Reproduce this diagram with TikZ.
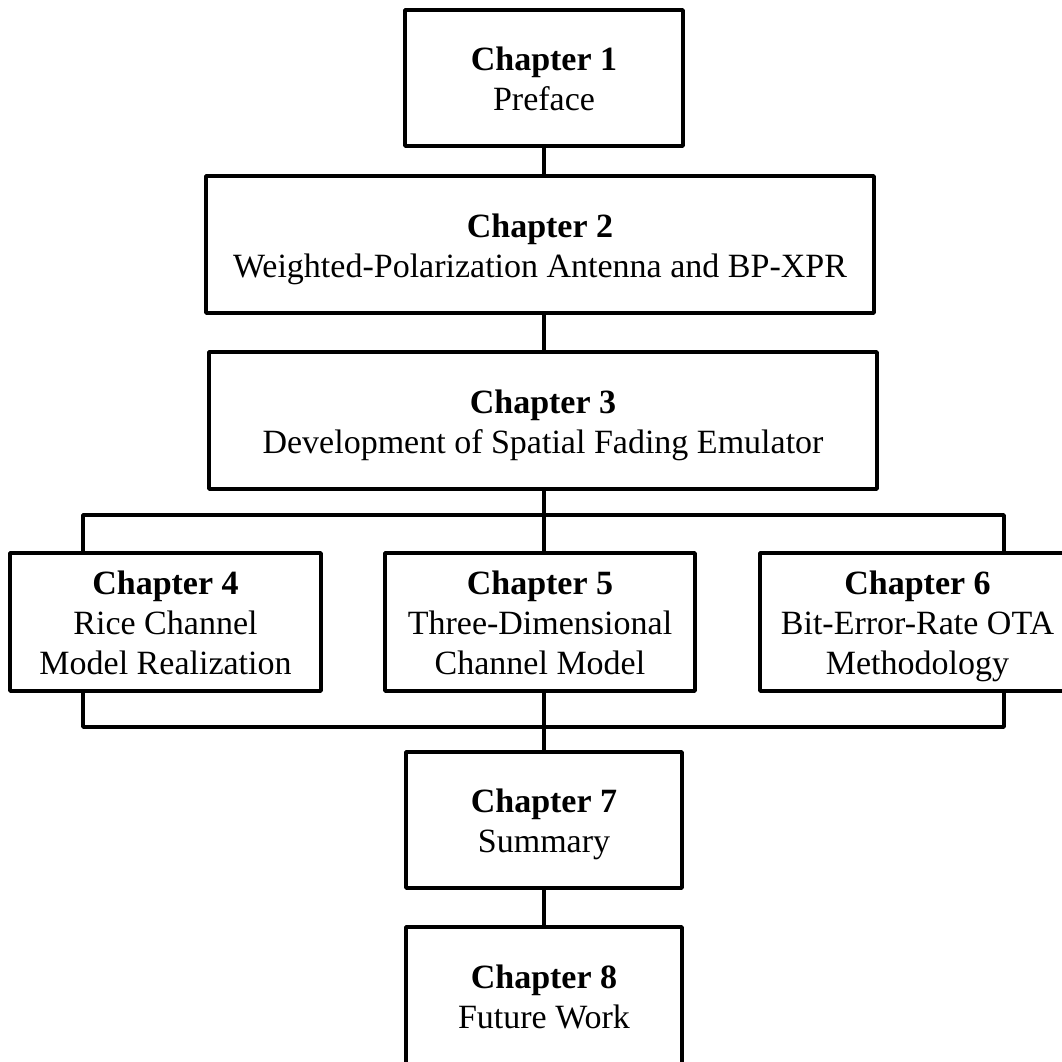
\documentclass[tikz,border=0pt]{standalone}
\usepackage{fontspec}
\setmainfont{Liberation Serif}
\newcommand{\ftop}{\rule{0pt}{33pt}}
\newcommand{\fbot}{\rule[-8pt]{0pt}{8pt}}
\begin{document}
\begin{tikzpicture}[x=1pt,y=-1pt,
  chap/.style={draw, line width=3.5pt, line join=round, inner sep=0pt, align=center,
    font=\fontsize{34}{40}\selectfont, minimum height=137pt},
  conn/.style={line width=3.5pt, line join=round}]
\fill[white] (0,0) rectangle (1062,1061);
\useasboundingbox (0,0) rectangle (1062,1061);
\clip (0,0) rectangle (1062,1061);
\node[chap, minimum width=278pt, minimum height=136pt] (ch1) at (544,78) {\ftop\textbf{Chapter 1}\\Preface\fbot};
\node[chap, minimum width=668pt] (ch2) at (540,244.5) {\ftop\textbf{Chapter 2}\\Weighted-Polarization Antenna and BP-XPR\fbot};
\node[chap, minimum width=668pt] (ch3) at (543,420.5) {\ftop\textbf{Chapter 3}\\Development of Spatial Fading Emulator\fbot};
\node[chap, minimum width=311pt, minimum height=138pt] (ch4) at (165.5,622) {\ftop\textbf{Chapter 4}\\Rice Channel\\Model Realization\fbot};
\node[chap, minimum width=310pt, minimum height=138pt] (ch5) at (540,622) {\ftop\textbf{Chapter 5}\\Three-Dimensional\\Channel Model\fbot};
\node[chap, minimum width=315pt, minimum height=138pt] (ch6) at (917.5,622) {\ftop\textbf{Chapter 6}\\Bit-Error-Rate OTA\\Methodology\fbot};
\node[chap, minimum width=276pt, minimum height=136pt] (ch7) at (544,820) {\ftop\textbf{Chapter 7}\\Summary\fbot};
\node[chap, minimum width=276pt] (ch8) at (544,995.5) {\ftop\textbf{Chapter 8}\\Future Work\fbot};
\coordinate (tl) at (83,515);
\coordinate (tr) at (1004,515);
\coordinate (bl) at (83,727);
\coordinate (br) at (1004,727);
\draw[conn] (ch1.south) -- (ch1.south |- ch2.north);
\draw[conn] (ch2.south -| ch1.south) -- (ch3.north -| ch1.south);
\draw[conn] (ch3.south -| ch1.south) -- (ch1.south |- tl);
\draw[conn] (tl |- ch4.north) -- (tl) -- (tr) -- (tr |- ch6.north);
\draw[conn] (ch1.south |- tl) -- (ch5.north -| ch1.south);
\draw[conn] (tl |- ch4.south) -- (bl) -- (br) -- (tr |- ch6.south);
\draw[conn] (ch5.south -| ch1.south) -- (ch1.south |- bl);
\draw[conn] (ch1.south |- bl) -- (ch7.north);
\draw[conn] (ch7.south) -- (ch8.north);
\end{tikzpicture}
\end{document}
